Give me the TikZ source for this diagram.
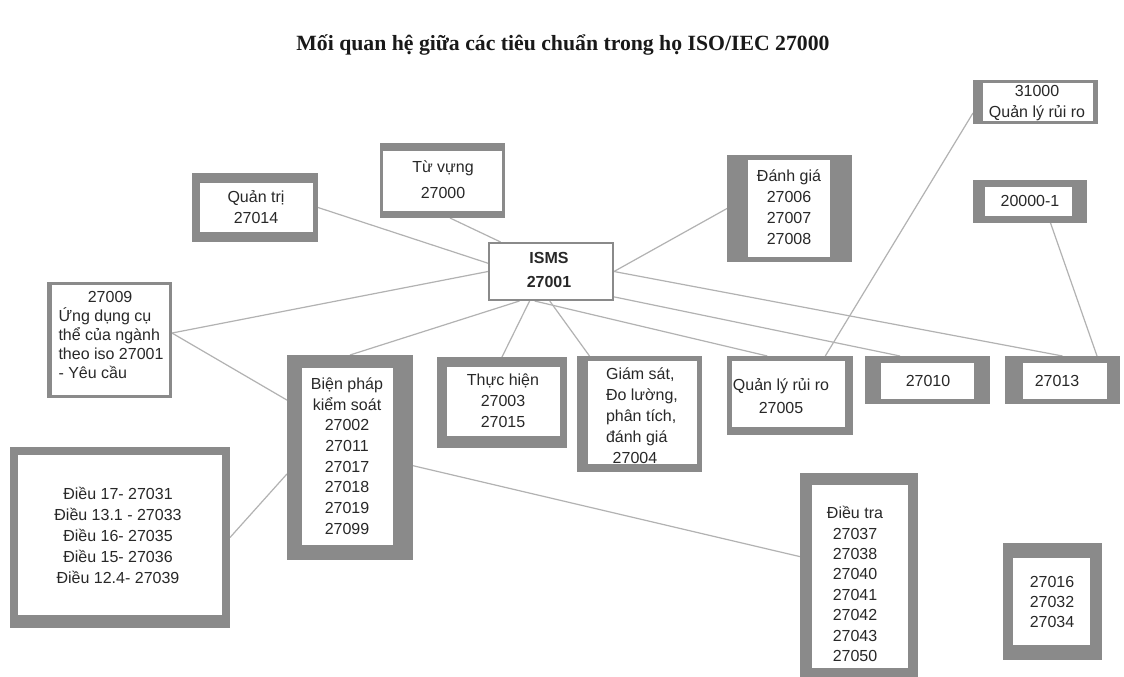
\documentclass[tikz,border=0pt]{standalone}
\usepackage{fontspec}
\setmainfont{Liberation Sans}
\newfontfamily\titlefont{Liberation Serif}
\usetikzlibrary{fit,calc}
\pgfdeclarelayer{bg}
\pgfsetlayers{bg,main}
\definecolor{boxgray}{RGB}{138,138,138}
\definecolor{linegray}{RGB}{178,178,178}
\definecolor{txtc}{RGB}{40,40,40}
\tikzset{
  outerbox/.style={inner sep=0pt, outer sep=0pt, fill=boxgray, draw=none},
  txt/.style={inner sep=0pt, align=center, text=txtc, font=\fontsize{12}{15.5}\selectfont},
  link/.style={draw=linegray, line width=0.9pt},
}
\newcommand\gbox[9]{%
  \coordinate (#1-a) at (#2,#3);
  \coordinate (#1-b) at (#4,#5);
  \node[outerbox, fit=(#1-a)(#1-b)] (#1) {};
  \fill[white] (#2+#6,#3+#7) rectangle (#4-#8,#5-#9);
}
\begin{document}
\begin{tikzpicture}[x=0.75pt,y=-0.75pt]
\useasboundingbox (0,0) rectangle (1124,677);
\begin{pgfonlayer}{bg}
\fill[white] (0,0) rectangle (1124,677);
\end{pgfonlayer}

\node[font=\titlefont\bfseries\fontsize{16.3}{19}\selectfont, text=black!90, inner sep=0pt] (title) at (563,45) {Mối quan hệ giữa các tiêu chuẩn trong họ ISO/IEC 27000};

\gbox{qt}{192}{173}{318}{242}{8}{10}{5}{10}
\gbox{tv}{380}{143}{505}{218}{3}{8}{3}{7}
\gbox{isms}{488}{242}{614}{301}{2}{2}{2}{2}
\gbox{dg}{727}{155}{852}{262}{21}{5}{22}{5}
\gbox{rr}{973}{80}{1098}{124}{10}{3}{5}{3}
\gbox{sm}{973}{180}{1087}{223}{12}{7}{15}{7}
\gbox{nn}{47}{282}{172}{398}{5}{3}{3}{3}
\gbox{bp}{287}{355}{413}{560}{15}{13}{20}{15}
\gbox{th}{437}{357}{567}{448}{10}{10}{7}{12}
\gbox{gs}{577}{356}{702}{472}{11}{5}{5}{8}
\gbox{ql}{727}{356}{853}{435}{5}{5}{8}{8}
\gbox{kten}{865}{356}{990}{404}{16}{7}{16}{5}
\gbox{kthir}{1005}{356}{1120}{404}{18}{7}{13}{5}
\gbox{dieu}{10}{447}{230}{628}{8}{8}{8}{13}
\gbox{dt}{800}{473}{918}{677}{12}{12}{10}{9}
\gbox{ks}{1003}{543}{1102}{660}{10}{15}{12}{15}

\node[txt] (qt-t) at (256,207) {Quản trị\\27014};
\node[txt, font=\fontsize{12}{19.5}\selectfont] (tv-t) at (443,180) {Từ vựng\\27000};
\node[txt, font=\bfseries\fontsize{12}{18}\selectfont] (isms-t) at (549,270) {ISMS\\27001};
\node[txt, font=\fontsize{12}{15.75}\selectfont] (dg-t) at (789,207) {Đánh giá\\27006\\27007\\27008};
\node[txt, font=\fontsize{12}{15.75}\selectfont] (rr-t) at (1037,103) {31000\\Quản lý rủi ro};
\node[txt] (sm-t) at (1030,201) {20000-1};
\node[txt, align=left, font=\fontsize{12}{14.25}\selectfont] (nn-t) at (111,335) {\hspace*{22pt}27009\\Ứng dụng cụ\\thể của ngành\\theo iso 27001\\- Yêu cầu};
\node[txt] (bp-t) at (347,456) {Biện pháp\\kiểm soát\\27002\\27011\\27017\\27018\\27019\\27099};
\node[txt, font=\fontsize{12}{15.75}\selectfont] (th-t) at (503,401) {Thực hiện\\27003\\27015};
\node[txt, align=left, font=\fontsize{12}{15.75}\selectfont] (gs-t) at (642,416) {Giám sát,\\Đo lường,\\phân tích,\\đánh giá\\\hspace*{5pt}27004};
\node[txt, font=\fontsize{12}{17}\selectfont] (ql-t) at (781,396) {Quản lý rủi ro\\27005};
\node[txt] (kten-t) at (928,381) {27010};
\node[txt] (kthir-t) at (1057,381) {27013};
\node[txt, font=\fontsize{12}{15.75}\selectfont] (dieu-t) at (118,535) {Điều 17- 27031\\Điều 13.1 - 27033\\Điều 16- 27035\\Điều 15- 27036\\Điều 12.4- 27039};
\node[txt, font=\fontsize{12}{15.3}\selectfont] (dt-t) at (855,584) {Điều tra\\27037\\27038\\27040\\27041\\27042\\27043\\27050};
\node[txt, font=\fontsize{12}{15}\selectfont] (ks-t) at (1052,602) {27016\\27032\\27034};

\begin{pgfonlayer}{bg}
\draw[link] (qt.east) -- ($(isms.north west)!0.36!(isms.south west)$);
\draw[link] ($(tv.south west)!0.56!(tv.south east)$) -- ($(isms.north west)!0.1!(isms.north east)$);
\draw[link] (dg.west) -- (isms.east);
\draw[link] (isms.east) -- (kthir.north);
\draw[link] ($(isms.north east)!0.93!(isms.south east)$) -- ($(kten.north west)!0.28!(kten.north east)$);
\draw[link] ($(isms.south west)!0.37!(isms.south east)$) -- ($(ql.north west)!0.32!(ql.north east)$);
\draw[link] ($(isms.south west)!0.25!(isms.south east)$) -- (bp.north);
\draw[link] ($(isms.south west)!0.33!(isms.south east)$) -- (th.north);
\draw[link] ($(isms.south west)!0.49!(isms.south east)$) -- ($(gs.north west)!0.1!(gs.north east)$);
\draw[link] ($(nn.north east)!0.44!(nn.south east)$) -- (isms.west);
\draw[link] ($(nn.north east)!0.44!(nn.south east)$) -- ($(bp.north west)!0.22!(bp.south west)$);
\draw[link] (dieu.east) -- ($(bp.north west)!0.58!(bp.south west)$);
\draw[link] ($(bp.north east)!0.54!(bp.south east)$) -- ($(dt.north west)!0.41!(dt.south west)$);
\draw[link] ($(rr.north west)!0.75!(rr.south west)$) -- ($(ql.north west)!0.78!(ql.north east)$);
\draw[link] ($(sm.south west)!0.68!(sm.south east)$) -- ($(kthir.north west)!0.8!(kthir.north east)$);
\end{pgfonlayer}
\end{tikzpicture}
\end{document}
